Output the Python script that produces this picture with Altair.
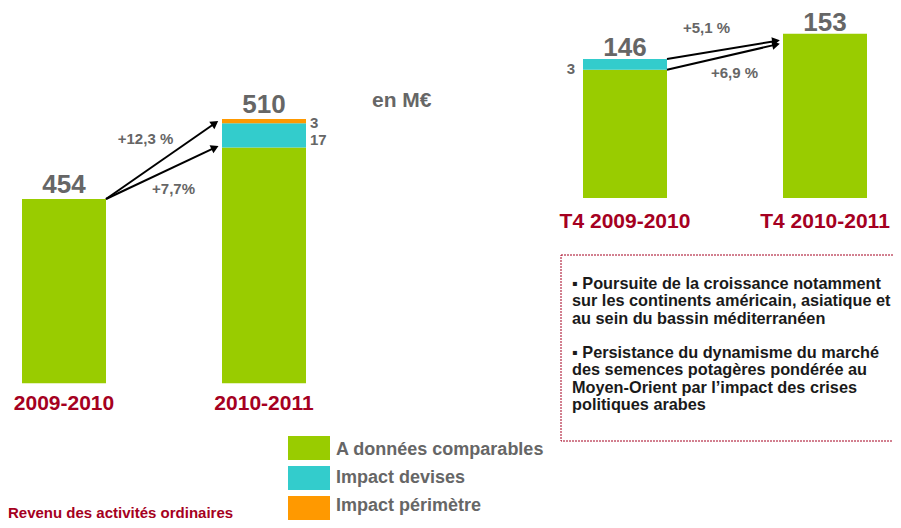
import math
import altair as alt
import pandas as pd

# ---------------- data ----------------
series = ["A données comparables", "Impact devises", "Impact périmètre"]
colors = ["#99CC00", "#33CCCC", "#FF9900"]

left_cats = ["2009-2010", "2010-2011"]
left_comparable = [454, 490]
left_devises = [0, 17]
left_perimetre = [0, 3]
left_totals = [454, 510]
left_arrow_from = [454, 454]
left_arrow_to = [507, 490]
left_growth = ["+12,3 %", "+7,7%"]

right_cats = ["T4 2009-2010", "T4 2010-2011"]
right_comparable = [143, 153]
right_devises = [3, 0]
right_perimetre = [0, 0]
right_totals = [146, 153]
right_arrow_from = [146, 143]
right_arrow_to = [151, 150]
right_growth = ["+5,1 %", "+6,9 %"]

unit_label = "en M€"
footer_label = "Revenu des activités ordinaires"
box_par1 = [
    "▪ Poursuite de la croissance notamment",
    "sur les continents américain, asiatique et",
    "au sein du bassin méditerranéen",
]
box_par2 = [
    "▪  Persistance du dynamisme du marché",
    "des semences potagères pondérée au",
    "Moyen-Orient par l’impact des crises",
    "politiques arabes",
]

# ---------------- layout / style ----------------
W, H = 885, 512
FONT = "Liberation Sans"
GRAY = "#666666"
RED = "#A50021"
STEP = 200.0      # px between the two bars of a panel
HALF = 0.21       # half bar width, in category steps
GAP_PX = 7
SEG_DY = {"Impact devises": 5, "Impact périmètre": 2}
LINE_H = 17.3

LEFT = dict(cx=56, anchor=454, ay=191, ppu=1.4286, base=325, cat_dy=21,
            seg_side="right", tot_dy=-6)
RIGHT = dict(cx=617, anchor=146, ay=51, ppu=3.6, base=107.4, cat_dy=24,
             seg_side="left", tot_dy=-3)

color_scale = alt.Scale(domain=series, range=colors)


def panel(cats, stacks, totals, arrow_from, arrow_to, growth, cfg):
    xs = alt.Scale(domain=[-cfg["cx"] / STEP, (W - cfg["cx"]) / STEP],
                   nice=False, zero=False)
    ppu = cfg["ppu"]
    ys = alt.Scale(domain=[cfg["anchor"] - (H - cfg["ay"]) / ppu,
                           cfg["anchor"] + cfg["ay"] / ppu],
                   nice=False, zero=False)
    rows = []
    for i, c in enumerate(cats):
        cum = 0
        for s, vals in zip(series, stacks):
            v = vals[i]
            if v <= 0:
                continue
            y0 = cfg["base"] if cum == 0 else cum
            cum += v
            rows.append(dict(idx=i, xa=i - HALF, xb=i + HALF, series=s,
                             y0=y0, y1=cum, mid=(y0 + cum) / 2, val=str(v)))
    bdf = pd.DataFrame(rows)
    X = lambda f: alt.X(f, scale=xs, axis=None)
    Y = lambda f: alt.Y(f, scale=ys, axis=None)

    out = []
    out.append(alt.Chart(bdf).mark_bar().encode(
        x=X("xa:Q"), x2="xb:Q", y=Y("y1:Q"), y2="y0:Q",
        color=alt.Color("series:N", scale=color_scale, legend=None),
    ))
    for s in series[1:]:
        seg = bdf[bdf["series"] == s]
        if seg.empty:
            continue
        if cfg["seg_side"] == "right":
            out.append(alt.Chart(seg).mark_text(
                align="left", baseline="middle", dx=4, dy=SEG_DY[s], font=FONT,
                fontSize=15, fontWeight="bold", color=GRAY).encode(
                x=X("xb:Q"), y=Y("mid:Q"), text="val:N"))
        else:
            out.append(alt.Chart(seg).mark_text(
                align="right", baseline="middle", dx=-8, dy=SEG_DY[s], font=FONT,
                fontSize=15, fontWeight="bold", color=GRAY).encode(
                x=X("xa:Q"), y=Y("mid:Q"), text="val:N"))

    tdf = pd.DataFrame(dict(idx=list(range(len(cats))), total=totals,
                            lab=[str(t) for t in totals], cat=cats,
                            base=[cfg["base"]] * len(cats)))
    out.append(alt.Chart(tdf).mark_text(
        align="center", baseline="alphabetic", dy=cfg["tot_dy"], font=FONT,
        fontSize=26, fontWeight="bold", color=GRAY).encode(
        x=X("idx:Q"), y=Y("total:Q"), text="lab:N"))
    out.append(alt.Chart(tdf).mark_text(
        align="center", baseline="middle", dy=cfg["cat_dy"], font=FONT,
        fontSize=21, fontWeight="bold", color=RED).encode(
        x=X("idx:Q"), y=Y("base:Q"), text="cat:N"))

    arows = []
    for k in range(len(arrow_from)):
        x0 = 0 + HALF
        x1 = 1 - HALF - GAP_PX / STEP
        y0, y1 = arrow_from[k], arrow_to[k]
        ang = math.degrees(math.atan2((x1 - x0) * STEP, (y1 - y0) * ppu)) % 360
        arows.append(dict(x0=x0, x1=x1, y0=y0, y1=y1, angle=ang,
                          mx=(x0 + x1) / 2, my=(y0 + y1) / 2, lab=growth[k],
                          pos="upper" if k == 0 else "lower"))
    adf = pd.DataFrame(arows)
    out.append(alt.Chart(adf).mark_rule(color="black", strokeWidth=2).encode(
        x=X("x0:Q"), x2="x1:Q", y=Y("y0:Q"), y2="y1:Q"))
    out.append(alt.Chart(adf).mark_point(
        shape="triangle-up", filled=True, size=80, color="black", opacity=1
    ).encode(x=X("x1:Q"), y=Y("y1:Q"), angle=alt.Angle("angle:Q", scale=None)))
    out.append(alt.Chart(adf[adf["pos"] == "upper"]).mark_text(
        align="center", baseline="middle", dx=-15, dy=-22, font=FONT,
        fontSize=15, fontWeight="bold", color=GRAY).encode(
        x=X("mx:Q"), y=Y("my:Q"), text="lab:N"))
    out.append(alt.Chart(adf[adf["pos"] == "lower"]).mark_text(
        align="center", baseline="middle", dx=13, dy=16, font=FONT,
        fontSize=15, fontWeight="bold", color=GRAY).encode(
        x=X("mx:Q"), y=Y("my:Q"), text="lab:N"))
    return out


layers = []
layers += panel(left_cats, [left_comparable, left_devises, left_perimetre],
                left_totals, left_arrow_from, left_arrow_to, left_growth, LEFT)
layers += panel(right_cats, [right_comparable, right_devises, right_perimetre],
                right_totals, right_arrow_from, right_arrow_to, right_growth, RIGHT)

# ---- legend (swatches + labels through a band scale) ----
ldf = pd.DataFrame({"series": series})
leg_y = alt.Scale(domain=series, range=[428, 512], paddingInner=0.2,
                  paddingOuter=0)
legend_rect = alt.Chart(ldf).mark_rect().encode(
    x=alt.value(280), x2=alt.value(322),
    y=alt.Y("series:N", scale=leg_y, axis=None),
    color=alt.Color("series:N", scale=color_scale, legend=None))
legend_txt = alt.Chart(ldf).mark_text(
    align="left", baseline="middle", font=FONT, fontSize=18, fontWeight="bold",
    color=GRAY).encode(
    x=alt.value(328), y=alt.Y("series:N", scale=leg_y, axis=None),
    text="series:N")

one = pd.DataFrame({"t": [unit_label], "f": [footer_label],
                    "p1": ["\n".join(box_par1)], "p2": ["\n".join(box_par2)]})

unit_txt = alt.Chart(one).mark_text(
    align="left", baseline="middle", font=FONT, fontSize=21, fontWeight="bold",
    color=GRAY).encode(x=alt.value(364), y=alt.value(93), text="t:N")
footer_txt = alt.Chart(one).mark_text(
    align="left", baseline="middle", font=FONT, fontSize=15, fontWeight="bold",
    color=RED).encode(x=alt.value(0), y=alt.value(505), text="f:N")
box = alt.Chart(one).mark_rect(
    fill="transparent", stroke=RED, strokeWidth=1, strokeDash=[2, 1]).encode(
    x=alt.value(553), x2=alt.value(900), y=alt.value(247), y2=alt.value(433))
box_kw = dict(align="left", baseline="alphabetic", lineBreak="\n",
              lineHeight=LINE_H, font=FONT, fontSize=16.3, fontWeight="bold",
              color="#1a1a1a")
box_txt1 = alt.Chart(one).mark_text(**box_kw).encode(
    x=alt.value(564), y=alt.value(281), text="p1:N")
box_txt2 = alt.Chart(one).mark_text(**box_kw).encode(
    x=alt.value(564), y=alt.value(281 + 4 * LINE_H), text="p2:N")

layers += [legend_rect, legend_txt, unit_txt, footer_txt, box, box_txt1,
           box_txt2]

chart = alt.layer(*layers).resolve_scale(
    x="independent", y="independent"
).properties(
    width=W, height=H, padding=0, autosize=alt.AutoSizeParams(type="none")
).configure_view(stroke=None)

chart.save("out.html", embed_options={"renderer": "svg", "actions": False})
